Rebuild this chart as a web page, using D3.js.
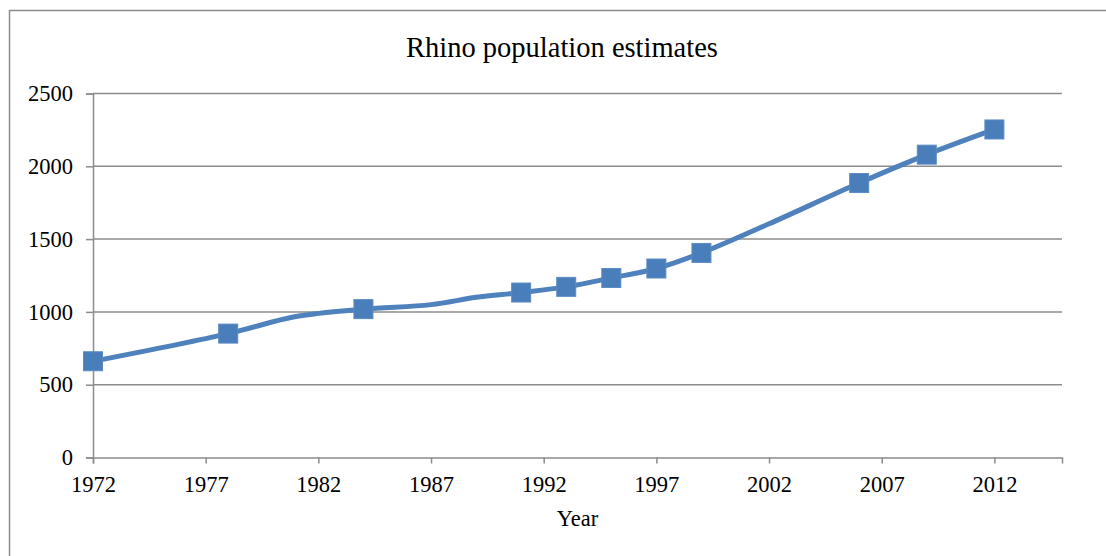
<!DOCTYPE html>
<html>
<head>
<meta charset="utf-8">
<script src="https://cdn.jsdelivr.net/npm/d3@7"></script>
<style>
  html, body { margin: 0; padding: 0; background: #fff; }
  svg { display: block; }
  text { font-family: "Liberation Serif", "Times New Roman", serif; fill: #000; }
</style>
</head>
<body>
<svg id="chart" width="1106" height="556"></svg>
<script>
// Census years and rhino counts; only the surveyed years carry a marker
const years   = [1972, 1978, 1981, 1984, 1987, 1989, 1991, 1993, 1995, 1997, 1999, 2002, 2006, 2009, 2012];
const counts  = [ 661,  851,  968, 1019, 1050, 1100, 1133, 1172, 1233, 1298, 1405, 1605, 1885, 2080, 2253];
const marked  = [true, true, false, true, false, false, true, true, true, true, true, false, true, true, true];

const xTicks = [1972, 1977, 1982, 1987, 1992, 1997, 2002, 2007, 2012];
const yTicks = [0, 500, 1000, 1500, 2000, 2500];

const titleText = "Rhino population estimates";
const xTitle = "Year";

const svg = d3.select("#chart");
const W = 1106, H = 556;
const plot = { left: 93, right: 1062, top: 93.5, bottom: 457.5 };

const x = d3.scaleLinear().domain([1972, 2015]).range([plot.left, plot.right]);
const y = d3.scaleLinear().domain([0, 2500]).range([plot.bottom, plot.top]);

const axisColor = "#8c8c8c";
const labelSize = "22.5px";

// outer frame of the chart object
svg.append("path")
  .attr("d", `M9.5,${H + 2} V10.5 H${W + 2}`)
  .attr("fill", "none")
  .attr("stroke", axisColor)
  .attr("stroke-width", 1.5);

// title
svg.append("text")
  .attr("x", 562).attr("y", 47)
  .attr("text-anchor", "middle")
  .attr("dominant-baseline", "central")
  .style("font-size", "28.5px")
  .text(titleText);

// horizontal gridlines
svg.append("g")
  .selectAll("line")
  .data(yTicks.filter(d => d > 0))
  .join("line")
  .attr("x1", plot.left).attr("x2", plot.right)
  .attr("y1", d => y(d)).attr("y2", d => y(d))
  .attr("stroke", axisColor).attr("stroke-width", 1.5);

// y axis
const yAxis = svg.append("g")
  .attr("transform", `translate(${plot.left},0)`)
  .call(d3.axisLeft(y).tickValues(yTicks).tickSize(7).tickPadding(13).tickFormat(d3.format("d")));
yAxis.select(".domain").attr("stroke", axisColor).attr("stroke-width", 1.5);
yAxis.selectAll(".tick line").attr("stroke", axisColor).attr("stroke-width", 1.5);
yAxis.selectAll(".tick text")
  .style("font-family", "'Liberation Serif', serif")
  .style("font-size", labelSize)
  .attr("fill", "#000");

// x axis
const xAxis = svg.append("g")
  .attr("transform", `translate(0,${plot.bottom})`)
  .call(d3.axisBottom(x).tickValues(xTicks).tickSize(6).tickPadding(13).tickFormat(d3.format("d")));
xAxis.select(".domain").attr("stroke", axisColor).attr("stroke-width", 1.5);
xAxis.selectAll(".tick line").attr("stroke", axisColor).attr("stroke-width", 1.5);
xAxis.selectAll(".tick text")
  .style("font-family", "'Liberation Serif', serif")
  .style("font-size", labelSize)
  .attr("fill", "#000");

// x axis title
svg.append("text")
  .attr("x", (plot.left + plot.right) / 2).attr("y", 518)
  .attr("text-anchor", "middle")
  .attr("dominant-baseline", "central")
  .style("font-size", labelSize)
  .text(xTitle);

// smoothed population line
const pts = years.map((yr, i) => ({ year: yr, count: counts[i], marked: marked[i] }));
const line = d3.line()
  .x(d => x(d.year))
  .y(d => y(d.count))
  .curve(d3.curveCatmullRom.alpha(0.5));

const blue = "#4F81BD";
svg.append("path")
  .datum(pts)
  .attr("d", line)
  .attr("fill", "none")
  .attr("stroke", blue)
  .attr("stroke-width", 5)
  .attr("stroke-linejoin", "round")
  .attr("stroke-linecap", "round");

// square markers on surveyed years
const ms = 19;
svg.append("g")
  .selectAll("rect")
  .data(pts.filter(d => d.marked))
  .join("rect")
  .attr("x", d => x(d.year) - ms / 2)
  .attr("y", d => y(d.count) - ms / 2)
  .attr("width", ms).attr("height", ms)
  .attr("fill", "#4A7EBB")
  .attr("stroke", "#5B8BC4")
  .attr("stroke-width", 1);
</script>
</body>
</html>
